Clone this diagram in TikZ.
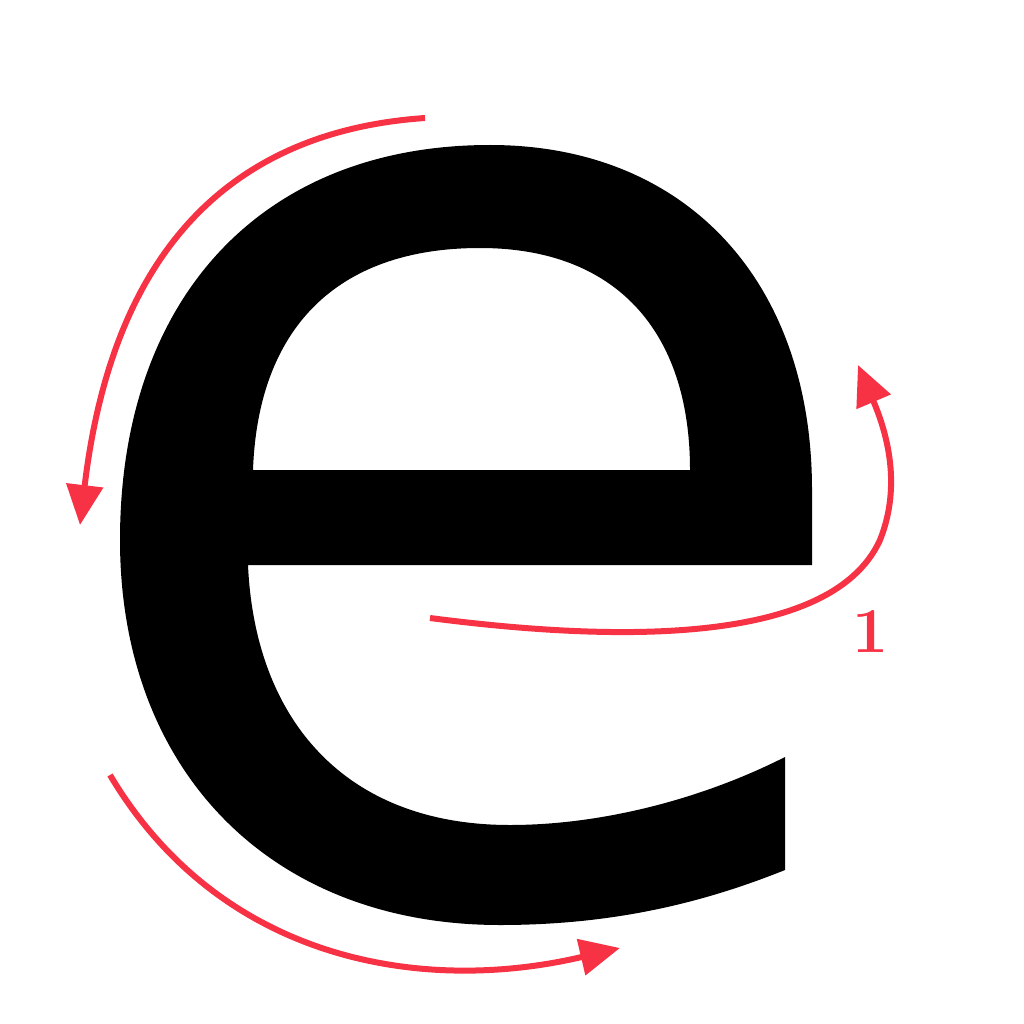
\documentclass[tikz,border=0pt]{standalone}
\usetikzlibrary{arrows.meta}
\definecolor{strokered}{HTML}{F83245}
\begin{document}
\begin{tikzpicture}[x=1pt,y=-1pt,
  orderarrow/.style={draw=strokered,line width=6pt,-{Triangle[length=40pt,width=36pt]}},
  glyph/.style={fill=black,even odd rule}]
\useasboundingbox[fill=white] (0,0) rectangle (1024,1024);
% letter e
\path[glyph]
  (812,565) -- (812,490)
  .. controls (812,280) and (685,145) .. (490,145)
  .. controls (260,145) and (120,300) .. (120,540)
  .. controls (120,770) and (270,925) .. (500,925)
  .. controls (620,925) and (710,900) .. (785,870)
  -- (785,757)
  .. controls (700,800) and (600,825) .. (510,825)
  .. controls (345,825) and (255,720) .. (248,565)
  -- cycle
  (253,470) -- (690,470)
  .. controls (690,330) and (615,248) .. (480,248)
  .. controls (335,248) and (258,330) .. (253,470)
  -- cycle;
% stroke order arrows
\draw[orderarrow] (430,618) .. controls (600,640) and (830,650) .. (880,540)
  .. controls (900,490) and (890,440) .. (858,365);
\node[text=strokered,font=\fontsize{64}{64}\selectfont\bfseries] (one) at (871,632) {1};
\draw[orderarrow] (425,118) .. controls (250,130) and (115,230) .. (80,525);
\draw[orderarrow] (110,775) .. controls (220,960) and (420,995) .. (620,948);
\end{tikzpicture}
\end{document}
